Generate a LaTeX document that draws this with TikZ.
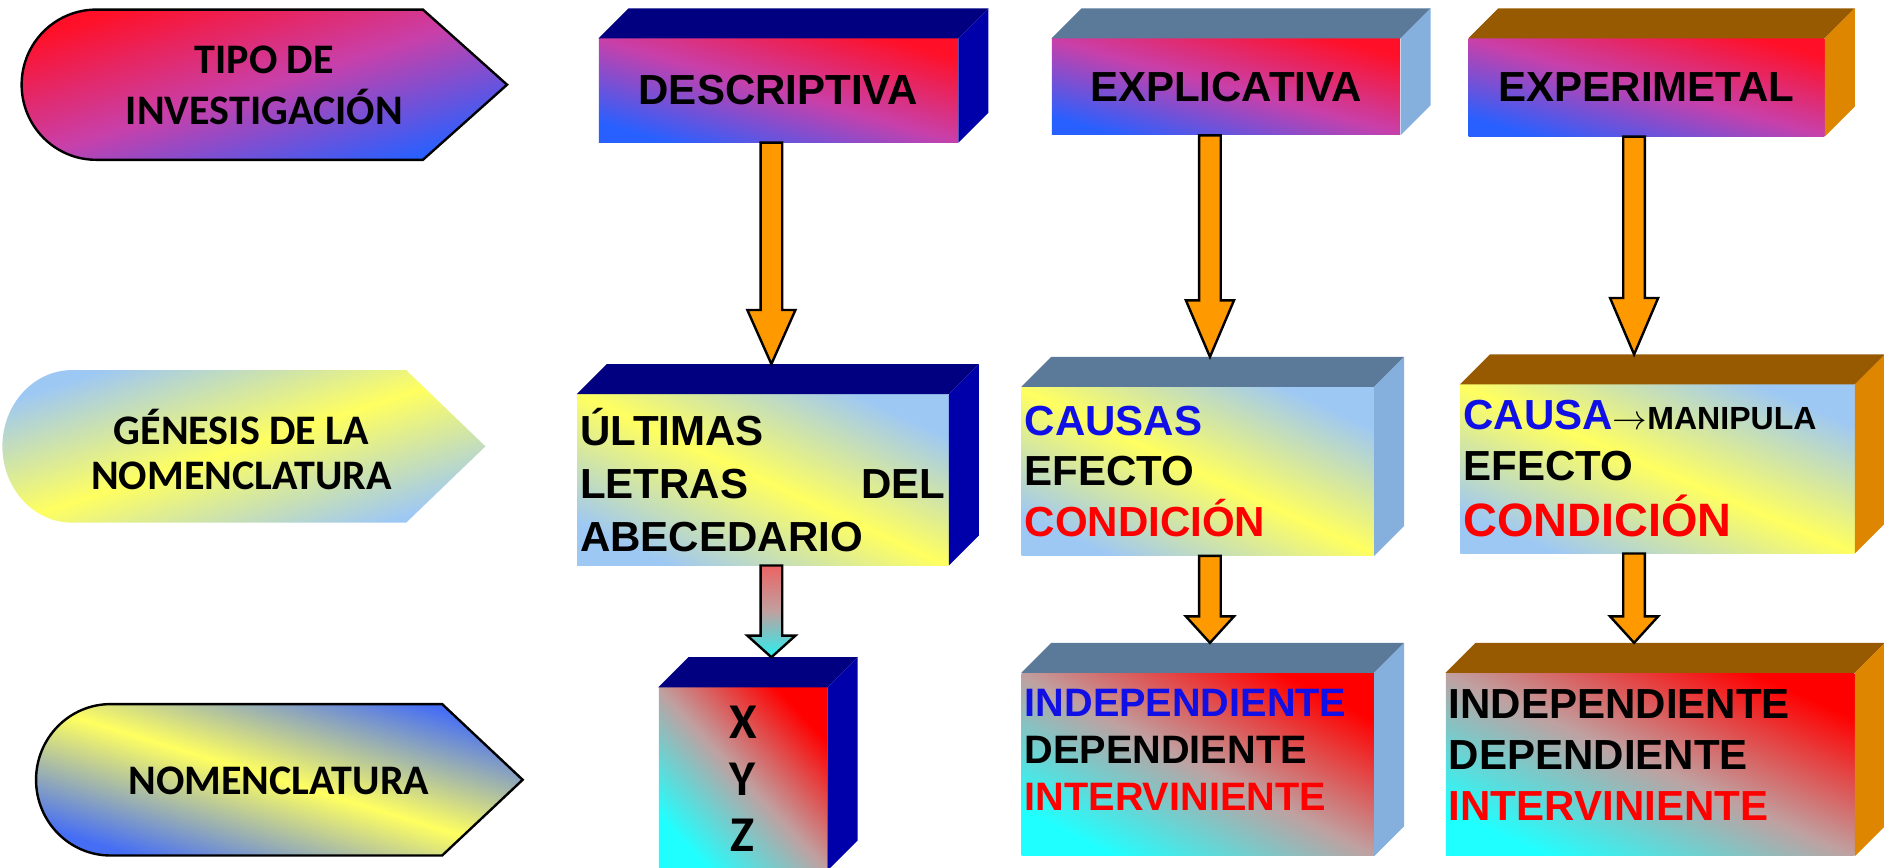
\documentclass[tikz,border=0pt]{standalone}
\usepackage{fontspec}
\setmainfont{Liberation Sans}
\newfontfamily\calibfont{Carlito}
\usetikzlibrary{calc}

\definecolor{navytop}{RGB}{0,0,128}
\definecolor{navyside}{RGB}{0,0,170}
\definecolor{slatetop}{RGB}{91,122,153}
\definecolor{slateside}{RGB}{133,176,222}
\definecolor{browntop}{RGB}{151,90,0}
\definecolor{brownside}{RGB}{222,134,0}
\definecolor{hotred}{RGB}{255,16,40}
\definecolor{royalblue}{RGB}{40,96,255}
\definecolor{plum}{RGB}{200,64,170}
\definecolor{skyblue}{RGB}{158,200,244}
\definecolor{lemon}{RGB}{255,255,96}
\definecolor{cornblue}{RGB}{70,110,245}
\definecolor{aqua}{RGB}{32,255,255}
\definecolor{ashgray}{RGB}{192,160,160}
\definecolor{arroworange}{RGB}{255,153,0}
\definecolor{fadetop}{RGB}{235,100,100}
\definecolor{fadebottom}{RGB}{40,240,240}
\definecolor{txtblue}{RGB}{16,16,230}
\definecolor{txtred}{RGB}{255,0,0}

\newcommand{\sideFaces}[3]{%
  \fill[#2] (#1.north west) -- ++(25,25) -- ($(#1.north east)+(25,25)$) -- (#1.north east) -- cycle;
  \fill[#3] (#1.north east) -- ++(25,25) -- ($(#1.south east)+(25,25)$) -- (#1.south east) -- cycle;}

\newcommand{\blockArrow}[5]{%
  \path (#2 |- #3.south) coordinate (arrTop) ($(#2 |- #4.north)+(0,25)$) coordinate (arrTip);
  \draw[#1] ($(arrTop)+(-9,0)$) -- ($(arrTip)+(-9,#5)$) -- ($(arrTip)+(-20,#5)$) -- (arrTip)
    -- ($(arrTip)+(20,#5)$) -- ($(arrTip)+(9,#5)$) -- ($(arrTop)+(9,0)$) -- cycle;}

\begin{document}
\begin{tikzpicture}[x=0.6pt, y=0.6pt,
    facebox/.style={anchor=north west, inner xsep=1.5pt, inner ysep=0pt, font=\bfseries\fontsize{21}{25.2}\selectfont},
    magfront/.style={facebox, left color=hotred, right color=royalblue, middle color=plum, shading angle=#1},
    sunfront/.style={facebox, left color=skyblue, right color=skyblue, middle color=lemon, shading angle=#1},
    aquafront/.style={facebox, left color=red, right color=aqua, middle color=ashgray, shading angle=#1},
    lefttext/.style={align=left, text width=#1},
    calibtext/.style={font=\calibfont\bfseries\fontsize{21}{25.2}\selectfont, align=center},
    orangearrow/.style={draw=black, line width=1.2pt, fill=arroworange},
    fadearrow/.style={draw=black, line width=1.2pt, top color=fadetop, bottom color=fadebottom, middle color=ashgray}]
    \useasboundingbox (0,0) rectangle (1568,722);
    \def\tipoShape{(80,714) -- (352,714) -- (422,651.5) -- (352,589) -- (80,589) arc[start angle=270, end angle=90, x radius=62, y radius=62.5] -- cycle}
    \def\genesisShape{(60,414) -- (338,414) -- (404,350.5) -- (338,287) -- (60,287) arc[start angle=270, end angle=90, x radius=58, y radius=63.5] -- cycle}
    \def\nomenShape{(92,136) -- (368,136) -- (435,73) -- (368,10) -- (92,10) arc[start angle=270, end angle=90, x radius=62, y radius=63] -- cycle}
    \shadedraw[left color=hotred, right color=royalblue, middle color=plum, shading angle=17, line width=1.2pt] \tipoShape;
    \shade[left color=skyblue, right color=skyblue, middle color=lemon, shading angle=18] \genesisShape;
    \shadedraw[left color=cornblue, right color=cornblue, middle color=lemon, shading angle=-17, line width=1.2pt] \nomenShape;
    \node[calibtext] (tipo) at (220,651) {TIPO DE\\INVESTIGACIÓN};
    \node[calibtext, font=\calibfont\bfseries\fontsize{21}{22.8}\selectfont] (genesis) at (201,348) {GÉNESIS DE LA\\NOMENCLATURA};
    \node[calibtext] (nomen) at (232,72) {NOMENCLATURA};

    \node[magfront=-16, minimum width=179.4pt, minimum height=51.6pt] (desc) at (498,690) {DESCRIPTIVA};
    \node[magfront=-15, minimum width=174pt, minimum height=48pt] (expl) at (875,690) {EXPLICATIVA};
    \node[magfront=-15, minimum width=177.6pt, minimum height=48.6pt] (exper) at (1222,690) {EXPERIMETAL};
    \node[sunfront=-25, lefttext=182.4pt, minimum width=185.4pt, minimum height=85.2pt, font=\bfseries\fontsize{21}{26.4}\selectfont] (ult) at (480,394) {ÚLTIMAS\\LETRAS\hfill DEL\\ABECEDARIO};
    \node[sunfront=-25, lefttext=172.8pt, minimum width=175.8pt, minimum height=84pt] (causas) at (850,400)
        {{\color{txtblue}CAUSAS}\\EFECTO\\{\color{txtred}CONDICIÓN}};
    \node[sunfront=-23, lefttext=193.8pt, minimum width=196.8pt, minimum height=84pt] (manip) at (1215,402)
        {{\color{txtblue}CAUSA}{\fontsize{16}{19}\selectfont$\rightarrow$MANIPULA}\\EFECTO\\[3pt]{\fontsize{23.4}{28}\selectfont\color{txtred}CONDICIÓN}};
    \node[aquafront=-47, minimum width=84pt, minimum height=91.2pt, font=\calibfont\bfseries\fontsize{25}{28.2}\selectfont, align=center] (xyz) at (548,150) {X\\Y\\Z};
    \node[aquafront=-27, lefttext=172.8pt, text depth=61.2pt, minimum width=175.8pt, minimum height=91.2pt, font=\bfseries\fontsize{19.8}{23.4}\selectfont] (indep1) at (850,162)
        {{\color{txtblue}INDEPENDIENTE}\\DEPENDIENTE\\{\color{txtred}INTERVINIENTE}};
    \node[aquafront=-24, lefttext=201pt, text depth=60.6pt, minimum width=204pt, minimum height=91.2pt, font=\bfseries\fontsize{21}{25.5}\selectfont] (indep2) at (1203,162)
        {INDEPENDIENTE\\DEPENDIENTE\\{\color{txtred}INTERVINIENTE}};

    \sideFaces{desc}{navytop}{navyside}
    \sideFaces{expl}{slatetop}{slateside}
    \sideFaces{exper}{browntop}{brownside}
    \sideFaces{ult}{navytop}{navyside}
    \sideFaces{causas}{slatetop}{slateside}
    \sideFaces{manip}{browntop}{brownside}
    \sideFaces{xyz}{navytop}{navyside}
    \sideFaces{indep1}{slatetop}{slateside}
    \sideFaces{indep2}{browntop}{brownside}

    \coordinate (c1) at (642,0);
    \coordinate (c2) at (1007,0);
    \coordinate (c3) at (1360,0);
    \blockArrow{orangearrow}{c1}{desc}{ult}{45}
    \blockArrow{orangearrow}{c2}{expl}{causas}{47}
    \blockArrow{orangearrow}{c3}{exper}{manip}{47}
    \blockArrow{fadearrow}{c1}{ult}{xyz}{18}
    \blockArrow{orangearrow}{c2}{causas}{indep1}{22}
    \blockArrow{orangearrow}{c3}{manip}{indep2}{22}
\end{tikzpicture}
\end{document}
